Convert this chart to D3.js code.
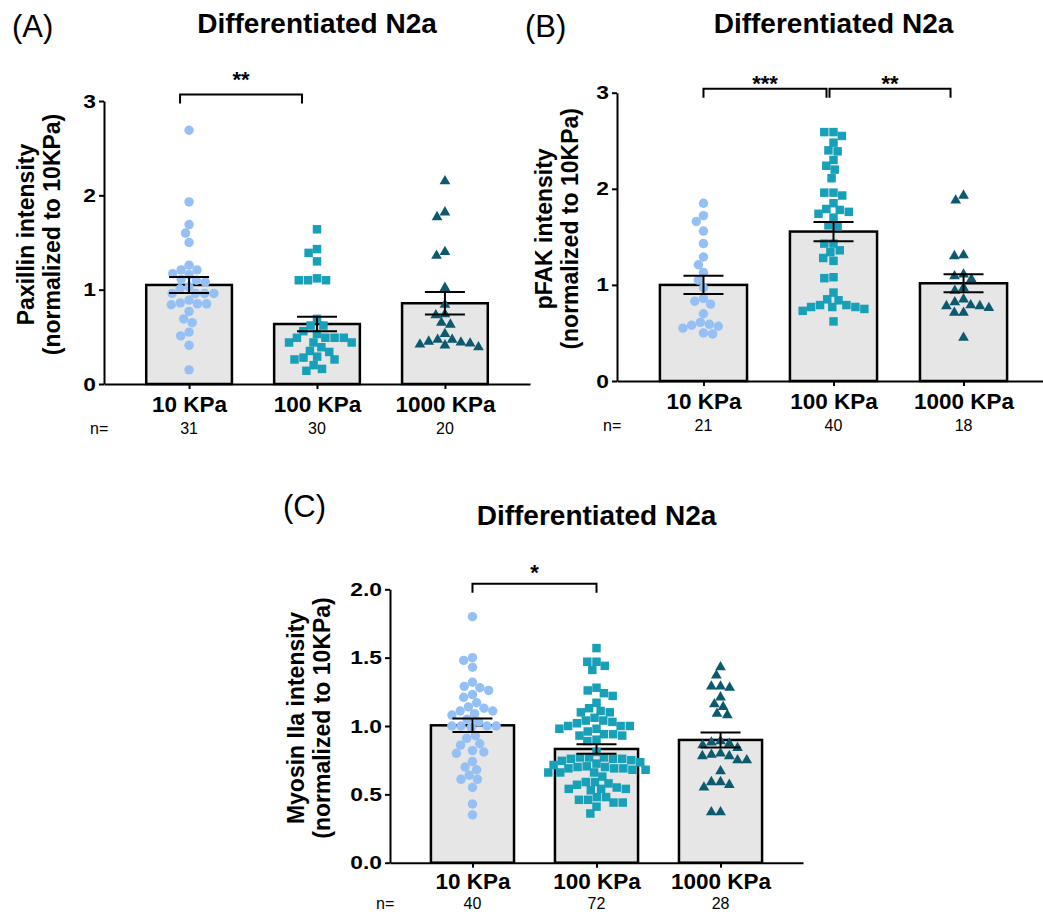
<!DOCTYPE html>
<html>
<head>
<meta charset="utf-8">
<script src="https://cdn.jsdelivr.net/npm/d3@7"></script>
<style>
  body { margin: 0; background: #fff; }
  text { font-family: "Liberation Sans", Arial, sans-serif; }
</style>
</head>
<body>
<script>
'use strict';

// categories shared by the three panels
const categories = ["10 KPa", "100 KPa", "1000 KPa"];

// (A) paxillin, values
const paxillin10 = [2.69, 1.93, 1.69, 1.60, 1.50, 1.26, 1.21, 1.21, 1.16, 1.17, 1.10, 1.08, 1.11, 1.03, 1.01,
  0.96, 0.96, 0.96, 0.96, 0.89, 0.85, 0.84, 0.85, 0.86, 0.77, 0.65, 0.69, 0.55, 0.51, 0.41, 0.15];
const paxillin100 = [1.64, 1.43, 1.39, 1.30, 1.10, 1.10, 1.10, 1.12, 0.69, 0.62, 0.62, 0.56, 0.49, 0.49, 0.49,
  0.49, 0.53, 0.44, 0.44, 0.44, 0.39, 0.35, 0.34, 0.26, 0.29, 0.28, 0.26, 0.20, 0.14, 0.16];
const paxillin1000 = [2.15, 1.82, 1.77, 1.36, 1.40, 1.02, 0.84, 0.73, 0.74, 0.63, 0.65, 0.53, 0.47, 0.44, 0.42,
  0.39, 0.41, 0.43, 0.45, 0.47];
const paxillinMean = [1.05, 0.636, 0.856];
const paxillinSem = [0.085, 0.077, 0.12];
const paxillinN = [31, 30, 20];

// (B) pFAK
const pfak10 = [1.85, 1.72, 1.66, 1.56, 1.43, 1.29, 1.21, 1.13, 1.05, 0.97, 0.86, 0.80, 0.83, 0.70, 0.61,
  0.58, 0.55, 0.49, 0.50, 0.57, 0.59];
const pfak100 = [2.59, 2.59, 2.55, 2.48, 2.40, 2.39, 2.30, 2.24, 2.20, 2.11, 1.96, 1.93, 1.96, 1.85, 1.79,
  1.76, 1.78, 1.74, 1.70, 1.62, 1.61, 1.43, 1.43, 1.34, 1.36, 1.25, 1.28, 1.08, 1.07, 0.92,
  0.85, 0.84, 0.79, 0.77, 0.79, 0.77, 0.75, 0.77, 0.73, 0.62];
const pfak1000 = [1.93, 1.88, 1.30, 1.31, 1.09, 1.06, 1.11, 0.97, 0.94, 0.85, 0.79, 0.78, 0.78, 0.82, 0.71,
  0.71, 0.76, 0.45];
const pfakMean = [1.0, 1.555, 1.017];
const pfakSem = [0.095, 0.1, 0.093];
const pfakN = [21, 40, 18];

// (C) myosin IIa
const myosin10 = [1.80, 1.48, 1.50, 1.43, 1.32, 1.29, 1.26, 1.28, 1.23, 1.21, 1.17, 1.13, 1.14, 1.11, 1.11,
  1.09, 1.08, 1.05, 1.00, 1.00, 1.03, 1.00, 1.00, 0.99, 0.93, 0.91, 0.86, 0.87, 0.81, 0.80,
  0.82, 0.74, 0.70, 0.68, 0.64, 0.61, 0.61, 0.55, 0.43, 0.35];
const myosin100 = [1.57, 1.47, 1.44, 1.47, 1.41, 1.26, 1.28, 1.22, 1.24, 1.17, 1.13, 1.10, 1.10, 1.11, 1.06,
  1.04, 1.03, 1.04, 1.00, 1.00, 1.00, 1.02, 0.98, 0.98, 0.94, 0.93, 0.90, 0.89, 0.93, 0.94,
  0.96, 0.81, 0.77, 0.76, 0.76, 0.75, 0.76, 0.77, 0.77, 0.70, 0.69, 0.68, 0.66, 0.66, 0.66,
  0.68, 0.69, 0.70, 0.63, 0.59, 0.59, 0.57, 0.58, 0.54, 0.55, 0.54, 0.54, 0.53, 0.48, 0.46,
  0.44, 0.46, 0.48, 0.44, 0.41, 0.36, 0.745, 0.735, 0.725, 0.715, 0.705, 0.69];
const myosin1000 = [1.43, 1.37, 1.28, 1.29, 1.29, 1.21, 1.16, 1.14, 1.09, 1.08, 0.86, 0.89, 0.87, 0.88, 0.84,
  0.80, 0.78, 0.78, 0.79, 0.75, 0.75, 0.67, 0.59, 0.57, 0.55, 0.59, 0.37, 0.37];
const myosinMean = [1.005, 0.832, 0.898];
const myosinSem = [0.049, 0.035, 0.055];
const myosinN = [40, 72, 28];

// marker look per category
const colors = ["#94c0f6", "#17a0b8", "#0d5a6e"];
const symbols = [
  d3.symbol(d3.symbolCircle, 70)(),
  d3.symbol(d3.symbolSquare, 72)(),
  d3.symbol(d3.symbolTriangle, 50)()
];

const svg = d3.select('body')
  .append('svg')
  .attr('width', 1043)
  .attr('height', 915);

// panel layouts (pixels)
const panels = [
  {
    letter: "(A)", letterX: 12, letterY: 37, titleY: 33, nGap: 50, labPad: 7,
    x0: 104, x1: 530, yTop: 101, yBottom: 384, yMax: 3,
    ticks: [0, 1, 2, 3], fmt: d3.format("d"),
    yLabel: ["Paxillin intensity", "(normalized to 10KPa)"], yLabelX: 34,
    values: [paxillin10, paxillin100, paxillin1000], mean: paxillinMean, sem: paxillinSem, n: paxillinN,
    brackets: [{ from: 0, to: 1, label: "**", level: 3.07, dx: [-9, -15], lift: 7 }]
  },
  {
    letter: "(B)", letterX: 525, letterY: 37, titleY: 33, nGap: 50, labPad: 7,
    x0: 617, x1: 1050, yTop: 92.7, yBottom: 381, yMax: 3,
    ticks: [0, 1, 2, 3], fmt: d3.format("d"),
    yLabel: ["pFAK intensity", "(normalized to 10KPa)"], yLabelX: 552,
    values: [pfak10, pfak100, pfak1000], mean: pfakMean, sem: pfakSem, n: pfakN,
    brackets: [
      { from: 0, to: 1, label: "***", level: 3.04, dx: [0, -7], lift: -2 },
      { from: 1, to: 2, label: "**", level: 3.04, dx: [-4, -13], lift: -2 }
    ]
  },
  {
    letter: "(C)", letterX: 283, letterY: 517, titleY: 525, nGap: 46, labPad: 5,
    x0: 390, x1: 803, yTop: 589.3, yBottom: 862.7, yMax: 2,
    ticks: [0, 0.5, 1, 1.5, 2], fmt: d3.format(".1f"),
    yLabel: ["Myosin IIa intensity", "(normalized to 10KPa)"], yLabelX: 304,
    values: [myosin10, myosin100, myosin1000], mean: myosinMean, sem: myosinSem, n: myosinN,
    brackets: [{ from: 0, to: 1, label: "*", level: 2.04, dx: [0, 0], lift: 4 }]
  }
];

panels.forEach(drawPanel);

// simple beeswarm: put each point as close to the centre line as it can go
function swarm(values, y, d) {
  let pts = values.map((v) => ({ v: v, y: y(v), x: 0 }));
  let order = pts.slice().sort((a, b) => a.y - b.y);
  let placed = [];
  order.forEach((p) => {
    let near = placed.filter((q) => Math.abs(q.y - p.y) < d);
    let cands = [0];
    near.forEach((q) => {
      let dx = Math.sqrt(d * d - (q.y - p.y) * (q.y - p.y));
      cands.push(q.x - dx, q.x + dx);
    });
    cands.sort((a, b) => Math.abs(a) - Math.abs(b) || a - b);
    p.x = cands.find((c) => near.every((q) =>
      (q.x - c) * (q.x - c) + (q.y - p.y) * (q.y - p.y) >= d * d - 0.01));
    placed.push(p);
  });
  return pts;
}

function drawPanel(cfg) {
  let x = d3.scalePoint()
    .domain(categories)
    .range([cfg.x0, cfg.x1])
    .padding(0.665);
  let y = d3.scaleLinear()
    .domain([0, cfg.yMax])
    .range([cfg.yBottom, cfg.yTop]);
  let barW = x.step() * 0.67;
  let g = svg.append('g');

  // bars
  g.selectAll('.bar')
    .data(categories)
    .enter()
    .append('rect')
    .attr('x', (d) => x(d) - barW / 2)
    .attr('y', (d, i) => y(cfg.mean[i]))
    .attr('width', barW)
    .attr('height', (d, i) => y(0) - y(cfg.mean[i]))
    .attr('fill', '#e6e6e6')
    .attr('stroke', '#000')
    .attr('stroke-width', 2.5);

  // scatter points
  categories.forEach((c, i) => {
    let pts = swarm(cfg.values[i], y, 9.2);
    g.append('g').selectAll('path')
      .data(pts)
      .enter()
      .append('path')
      .attr('d', symbols[i])
      .attr('transform', (p) => 'translate(' + (x(c) + p.x) + ',' + p.y + ')')
      .attr('fill', colors[i]);
  });

  // error bars (mean +/- sem)
  let eb = g.selectAll('.err')
    .data(categories)
    .enter()
    .append('g')
    .attr('stroke', '#000')
    .attr('stroke-width', 2);
  eb.append('line')
    .attr('x1', (d) => x(d)).attr('x2', (d) => x(d))
    .attr('y1', (d, i) => y(cfg.mean[i] + cfg.sem[i]))
    .attr('y2', (d, i) => y(cfg.mean[i] - cfg.sem[i]));
  [1, -1].forEach((s) => {
    eb.append('line')
      .attr('x1', (d) => x(d) - 20).attr('x2', (d) => x(d) + 20)
      .attr('y1', (d, i) => y(cfg.mean[i] + s * cfg.sem[i]))
      .attr('y2', (d, i) => y(cfg.mean[i] + s * cfg.sem[i]));
  });

  // y axis
  let yAxis = d3.axisLeft(y)
    .tickValues(cfg.ticks)
    .tickFormat(cfg.fmt)
    .tickSize(5)
    .tickSizeOuter(0)
    .tickPadding(3);
  let ya = g.append('g')
    .attr('transform', 'translate(' + cfg.x0 + ',0)')
    .call(yAxis);
  ya.select('.domain').attr('stroke-width', 2);
  ya.selectAll('.tick line').attr('stroke-width', 2);
  ya.selectAll('text')
    .attr('font-size', 19)
    .attr('font-weight', 'bold')
    .attr('fill', '#000')
    .attr('x', -8 / 1.2)
    .attr('transform', 'scale(1.2,1)');

  // x axis
  let xAxis = d3.axisBottom(x)
    .tickSize(5)
    .tickSizeOuter(0)
    .tickPadding(cfg.labPad);
  let xa = g.append('g')
    .attr('transform', 'translate(0,' + cfg.yBottom + ')')
    .call(xAxis);
  xa.select('.domain').attr('stroke-width', 2);
  xa.selectAll('.tick line').attr('stroke-width', 2);
  xa.selectAll('text')
    .attr('font-size', 22.5)
    .attr('font-weight', 'bold')
    .attr('fill', '#000');

  // n= row
  g.append('text')
    .attr('x', cfg.x0 - 14)
    .attr('y', cfg.yBottom + cfg.nGap)
    .attr('font-size', 16)
    .text('n=');
  g.selectAll('.nlab')
    .data(categories)
    .enter()
    .append('text')
    .attr('x', (d) => x(d))
    .attr('y', cfg.yBottom + cfg.nGap)
    .attr('text-anchor', 'middle')
    .attr('font-size', 16)
    .text((d, i) => cfg.n[i]);

  // significance brackets
  cfg.brackets.forEach((b) => {
    let xa1 = x(categories[b.from]) + b.dx[0];
    let xa2 = x(categories[b.to]) + b.dx[1];
    let yb = y(b.level);
    g.append('path')
      .attr('d', 'M' + xa1 + ',' + (yb + 9) + 'V' + yb + 'H' + xa2 + 'V' + (yb + 9))
      .attr('fill', 'none')
      .attr('stroke', '#000')
      .attr('stroke-width', 2);
    g.append('text')
      .attr('x', (xa1 + xa2) / 2)
      .attr('y', yb - b.lift)
      .attr('text-anchor', 'middle')
      .attr('font-size', 22)
      .attr('font-weight', 'bold')
      .text(b.label);
  });

  // y label, two lines
  let mid = (cfg.yTop + cfg.yBottom) / 2 - 8;
  cfg.yLabel.forEach((t, k) => {
    g.append('text')
      .attr('transform', 'translate(' + (cfg.yLabelX + k * 26) + ',' + mid + ')rotate(-90)')
      .attr('text-anchor', 'middle')
      .attr('font-size', 23)
      .attr('font-weight', 'bold')
      .text(t);
  });

  // title and panel letter
  g.append('text')
    .attr('x', x(categories[1]))
    .attr('y', cfg.titleY)
    .attr('text-anchor', 'middle')
    .attr('font-size', 28)
    .attr('font-weight', 'bold')
    .text('Differentiated N2a');
  g.append('text')
    .attr('x', cfg.letterX)
    .attr('y', cfg.letterY)
    .attr('font-size', 31)
    .text(cfg.letter);
}
</script>
</body>
</html>
